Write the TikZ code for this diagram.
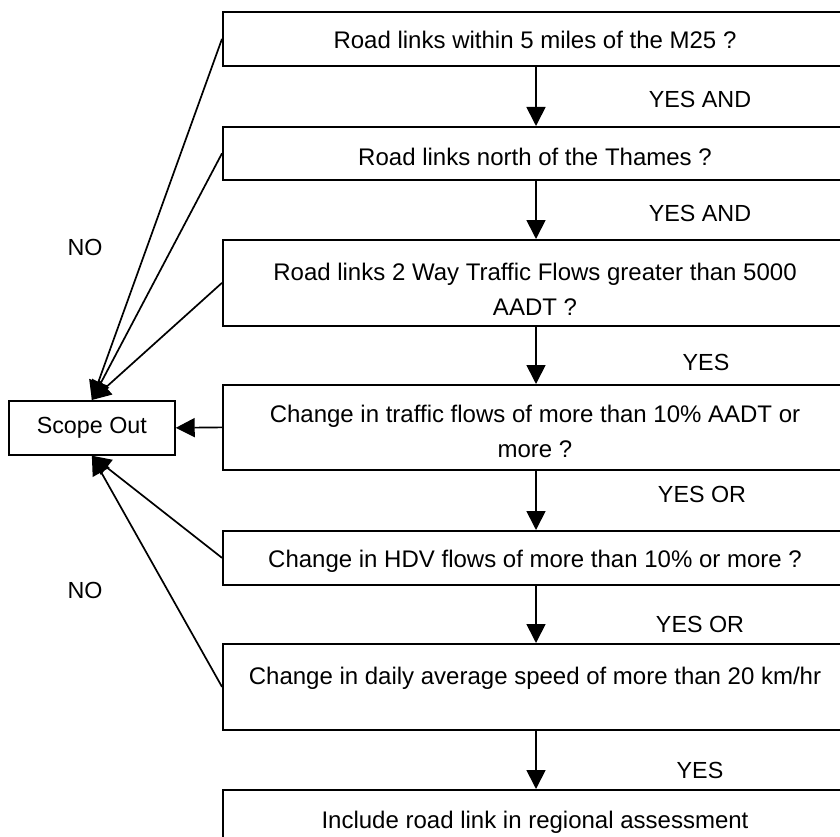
\documentclass[tikz,border=0pt]{standalone}
\usepackage{fontspec}
\setmainfont{Liberation Sans}
\usetikzlibrary{arrows.meta}
\begin{document}
\begin{tikzpicture}[x=1pt,y=-1pt,
  box/.style={draw, line width=1.7pt, anchor=north west, minimum width=620pt, inner sep=0pt},
  txt/.style={inner sep=0pt, font=\fontsize{24}{35}\selectfont, align=center},
  lbl/.style={inner sep=0pt, font=\fontsize{23.3}{34}\selectfont, align=center},
  arr/.style={line width=1.7pt, -{Triangle[length=19pt,width=19pt]}}]
\clip (0,0) rectangle (840,837);
\fill[white] (0,0) rectangle (840,837);
\coordinate (ax) at (536,0);
\node[box, minimum height=54pt] (b1) at (222,11) {};
\node[box, minimum height=53pt] (b2) at (222,126) {};
\node[box, minimum height=86pt] (b3) at (222,239) {};
\node[box, minimum height=85pt] (b4) at (222,384) {};
\node[box, minimum height=54pt] (b5) at (222,530) {};
\node[box, minimum height=86pt] (b6) at (222,643) {};
\node[box, minimum height=80pt] (b7) at (222,789) {};
\node[draw, line width=1.7pt, minimum width=166pt, minimum height=54pt, inner sep=0pt, anchor=north west] (scope) at (8,400) {};
\node[lbl] (scopet) at (scope.center) {Scope Out};

\node[txt] (t1) at (535,40) {Road links within 5 miles of the M25 ?};
\node[txt] (t2) at (535,157) {Road links north of the Thames ?};
\node[txt] (t3) at (535,289.5) {Road links 2 Way Traffic Flows greater than 5000\\AADT ?};
\node[txt] (t4) at (535,431) {Change in traffic flows of more than 10\% AADT or\\more ?};
\node[txt] (t5) at (535,561) {Change in HDV flows of more than 10\% or more ?};
\node[txt] (t6) at (535,678) {Change in daily average speed of more than 20 km/hr};
\node[txt] (t7) at (535,822) {Include road link in regional assessment};

\draw[arr] (b1.south -| ax) -- (b2.north -| ax);
\draw[arr] (b2.south -| ax) -- (b3.north -| ax);
\draw[arr] (b3.south -| ax) -- (b4.north -| ax);
\draw[arr] (b4.south -| ax) -- (b5.north -| ax);
\draw[arr] (b5.south -| ax) -- (b6.north -| ax);
\draw[arr] (b6.south -| ax) -- (b7.north -| ax);

\node[lbl] (l1) at (700,99) {YES AND};
\node[lbl] (l2) at (700,213) {YES AND};
\node[lbl] (l3) at (706,362) {YES};
\node[lbl] (l4) at (702,494) {YES OR};
\node[lbl] (l5) at (700,624) {YES OR};
\node[lbl] (l6) at (700,770) {YES};

\draw[arr] (b1.west) -- (scope.north);
\draw[arr] (b2.west) -- (scope.north);
\draw[arr] (b3.west) -- (scope.north);
\draw[arr] (b4.west) -- (scope.east);
\draw[arr] (b5.west) -- (scope.south);
\draw[arr] (b6.west) -- (scope.south);

\node[lbl] (no1) at (85,247) {NO};
\node[lbl] (no2) at (85,590) {NO};
\end{tikzpicture}
\end{document}
